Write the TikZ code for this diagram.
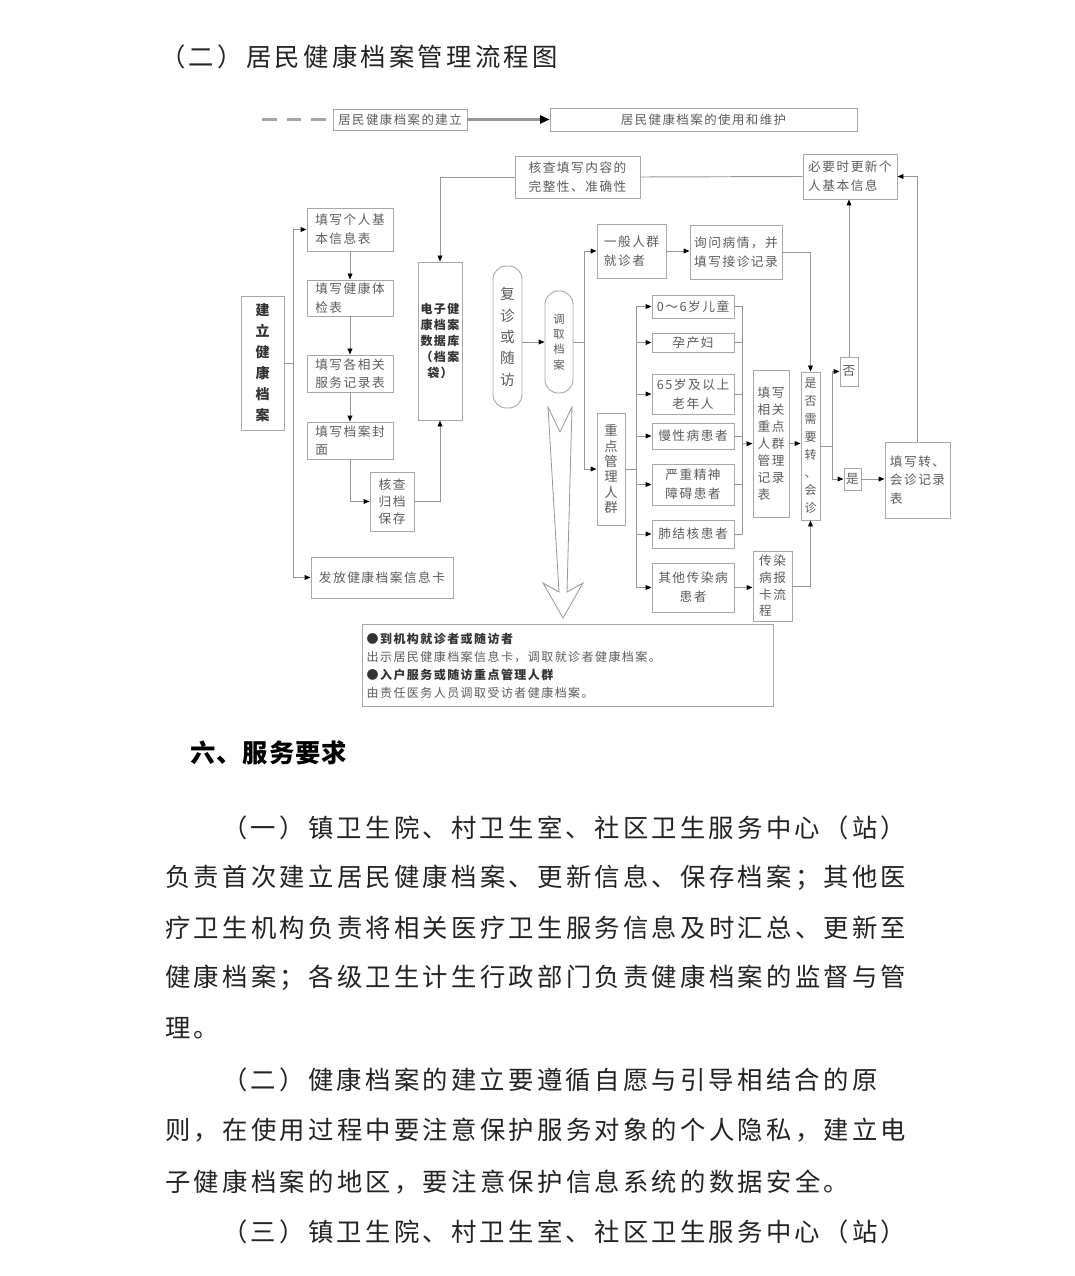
\documentclass[tikz,border=0pt]{standalone}
\usepackage{fontspec}
\setmainfont{Noto Sans CJK SC}
\newfontfamily\bodyfont[LetterSpace=13]{Noto Sans CJK SC}
\newfontfamily\headfont[LetterSpace=4]{Noto Sans CJK SC}
\newfontfamily\diagfont[LetterSpace=12]{Noto Sans CJK SC}
\usetikzlibrary{arrows.meta, positioning, calc}
\definecolor{linegray}{RGB}{150,150,150}
\definecolor{boxgray}{RGB}{168,168,168}
\definecolor{textgray}{RGB}{92,92,92}
\definecolor{inkblack}{RGB}{35,35,35}
\newcommand{\dtxt}[2]{\diagfont\fontsize{#1}{#2}\selectfont}

\begin{document}
\begin{tikzpicture}[x=0.75pt, y=-0.75pt,
    box/.style={draw=boxgray, line width=0.7pt, inner sep=1.5pt, text=textgray, font=\dtxt{9.5}{14}},
    wh/.style 2 args={minimum width=#1*0.75pt, minimum height=#2*0.75pt},
    ln/.style={draw=linegray, line width=0.7pt},
    arr/.style={ln, -{Triangle[length=4.5pt, width=3.6pt, color=black]}},
    para/.style={anchor=west, inner sep=0pt, text=inkblack, font=\bodyfont\fontsize{19}{19}\selectfont}
]
\path[fill=white, use as bounding box] (0,0) rectangle (1074,1276);

\node[para] (title) at (160,57) {（二）居民健康档案管理流程图};

% top bar
\coordinate (dash0) at (262,119.5);
\node[box, wh={134}{21}, font=\dtxt{9.3}{12}] (build) at (400,119.5) {居民健康档案的建立};
\node[box, wh={307}{23}, font=\dtxt{9.3}{12}] (use) at (703.5,119.5) {居民健康档案的使用和维护};
\draw[draw=linegray!85, line width=1.9pt, dash pattern=on 11pt off 7.5pt] (dash0) -- (build.west);
\draw[ln, line width=1.6pt, -{Triangle[length=7pt, width=6pt, color=black]}] (build) -- (use);

% building the record
\node[box, wh={43}{134}, align=center, text=black!80, font=\dtxt{10.5}{15.75}\bfseries] (mk) at (262.5,363) {建\\立\\健\\康\\档\\案};
\node[box, wh={86}{43}, align=left] (info) at (350,229.5) {填写个人基\\本信息表};
\node[box, wh={86}{36}, align=left] (exam) at (350,298) {填写健康体\\检表};
\node[box, wh={86}{37}, align=left] (serv) at (350,373.5) {填写各相关\\服务记录表};
\node[box, wh={86}{37}, align=left] (cover) at (350,440.5) {填写档案封\\面};
\node[box, wh={44}{59}, align=center, font=\dtxt{9.5}{12.5}] (arch) at (392,501.5) {核查\\归档\\保存};
\node[box, wh={44}{158}, align=center, text=black!80, font=\dtxt{9}{12}\bfseries] (db) at (440,341) {电子健\\康档案\\数据库\\（档案\\袋）};
\node[box, wh={142}{41}] (card) at (382,577.5) {发放健康档案信息卡};
\node[box, wh={125}{42}, align=left] (chk) at (577.5,177) {核查填写内容的\\完整性、准确性};
\node[box, wh={94}{45}, align=left] (upd) at (850,176.5) {必要时更新个\\人基本信息};

\coordinate (fork1) at (293,363);
\draw[ln] (mk.east) -- (fork1);
\draw[arr] (fork1) |- (info.west);
\draw[arr] (fork1) |- (card.west);
\draw[arr] (info) -- (exam);
\draw[arr] (exam) -- (serv);
\draw[arr] (serv) -- (cover);
\draw[arr] (cover.south) |- (arch.west);
\draw[arr] (arch.east) -| (db.south);
\draw[arr] (chk.west) -| (db.north);
\draw[ln] (chk.east) -- (upd.west);

% using the record
\node[box, wh={29}{142}, rounded corners=10pt, align=center, font=\dtxt{11}{16}] (fz) at (507.5,337) {复\\诊\\或\\随\\访};
\node[box, wh={28}{102}, rounded corners=10pt, align=center, font=\dtxt{8.5}{11.5}] (dq) at (559,342) {调\\取\\档\\案};
\draw[arr] (fz.east |- dq.west) -- (dq.west);

\coordinate (fork2) at (584,342);
\node[box, wh={69}{54}, align=left] (gen) at (631.5,251) {一般人群\\就诊者};
\node[box, wh={92}{54}, align=left] (ask) at (736,252) {询问病情，并\\填写接诊记录};
\node[box, wh={28}{112}, align=center, font=\dtxt{10}{11.5}] (key) at (611,469) {重\\点\\管\\理\\人\\群};
\draw[ln] (dq.east) -- (fork2);
\draw[arr] (fork2) |- (gen.west);
\draw[arr] (fork2) |- (key.west);
\draw[arr] (gen.east) -- (gen.east -| ask.west);

% key groups
\node[box, wh={82}{23}] (g1) at (693,306.5) {0～6岁儿童};
\node[box, wh={82}{19}] (g2) at (693,342.5) {孕产妇};
\node[box, wh={82}{40}, align=center] (g3) at (693,394) {65岁及以上\\老年人};
\node[box, wh={82}{26}] (g4) at (693,436) {慢性病患者};
\node[box, wh={82}{41}, align=center] (g5) at (693,484.5) {严重精神\\障碍患者};
\node[box, wh={82}{28}] (g6) at (693,534) {肺结核患者};
\node[box, wh={82}{49}, align=center] (g7) at (693,587.5) {其他传染病\\患者};

\coordinate (fork3) at (636,469);
\draw[ln] (key.east) -- (fork3);
\draw[arr] (fork3) |- (g1.west);
\draw[arr] (fork3) |- (g2.west);
\draw[arr] (fork3) |- (g3.west);
\draw[arr] (fork3) |- (g4.west);
\draw[arr] (fork3) |- (g5.west);
\draw[arr] (fork3) |- (g6.west);
\draw[arr] (fork3) |- (g7.west);

\node[box, wh={36}{147}, align=left, font=\dtxt{9.5}{12.8}] (rec) at (771,443.5) {填写\\相关\\重点\\人群\\管理\\记录\\表};
\node[box, wh={39}{70}, align=left, font=\dtxt{9.5}{12.5}] (inf) at (772.5,586) {传染\\病报\\卡流\\程};
\coordinate (join) at (742,444);
\draw[ln] (g1.east) -| (join);
\draw[ln] (g2.east) -| (join);
\draw[ln] (g3.east) -| (join);
\draw[ln] (g4.east) -| (join);
\draw[ln] (g5.east) -| (join);
\draw[ln] (g6.east) -| (join);
\draw[arr] (join) -- (rec.west);
\draw[arr] (g7.east) -- (g7.east -| inf.west);

% referral decision
\node[box, wh={19}{148}, inner sep=0.5pt, align=center, font=\dtxt{9}{13.4}] (need) at (810.5,446) {是\\否\\需\\要\\转\\、\\会\\诊};
\node[box, wh={18}{29}, inner sep=0.5pt] (no) at (849,371.5) {否};
\node[box, wh={17}{22}, inner sep=0.5pt] (yes) at (852.5,479) {是};
\node[box, wh={65}{76}, align=left] (ref) at (917.5,480) {填写转、\\会诊记录\\表};
\coordinate (fork4) at (832,446);
\draw[arr] (rec.east) -- (rec.east -| need.west);
\draw[arr] (ask.east) -| (need.north);
\draw[arr] (inf.east) -| (need.south);
\draw[ln] (need.east) -- (fork4);
\draw[arr] (fork4) |- (no.west);
\draw[arr] (fork4) |- (yes.west);
\draw[arr] (no.north) -- (no.north |- upd.south);
\draw[arr] (yes.east) -- (yes.east -| ref.west);
\draw[arr] (ref.north) |- (upd.east);

% hollow arrow down to the note
\draw[linegray, line width=0.6pt] (548,407) -- (560,432) -- (572,407) -- (567,592) -- (583,583)
    -- (563,618) -- (543,583) -- (559,592) -- cycle;
\node[box, wh={411}{82}, anchor=north west, inner sep=3pt, text width=302pt, align=left, font=\dtxt{9}{13.5}] (note) at (362,624)
    {{\color{black!80}\bfseries ●到机构就诊者或随访者}\\出示居民健康档案信息卡，调取就诊者健康档案。\\{\color{black!80}\bfseries ●入户服务或随访重点管理人群}\\由责任医务人员调取受访者健康档案。};

% text below
\node[para, font=\headfont\fontsize{19}{19}\selectfont\bfseries, text=black] (sec) at (190,753) {六、服务要求};
\node[para] (p1) at (222,828) {（一）镇卫生院、村卫生室、社区卫生服务中心（站）};
\node[para] (p2) at (165,878) {负责首次建立居民健康档案、更新信息、保存档案；其他医};
\node[para] (p3) at (165,928) {疗卫生机构负责将相关医疗卫生服务信息及时汇总、更新至};
\node[para] (p4) at (165,978) {健康档案；各级卫生计生行政部门负责健康档案的监督与管};
\node[para] (p5) at (165,1028) {理。};
\node[para] (p6) at (222,1080) {（二）健康档案的建立要遵循自愿与引导相结合的原};
\node[para] (p7) at (165,1130) {则，在使用过程中要注意保护服务对象的个人隐私，建立电};
\node[para] (p8) at (165,1182) {子健康档案的地区，要注意保护信息系统的数据安全。};
\node[para] (p9) at (222,1232) {（三）镇卫生院、村卫生室、社区卫生服务中心（站）};

\end{tikzpicture}
\end{document}
